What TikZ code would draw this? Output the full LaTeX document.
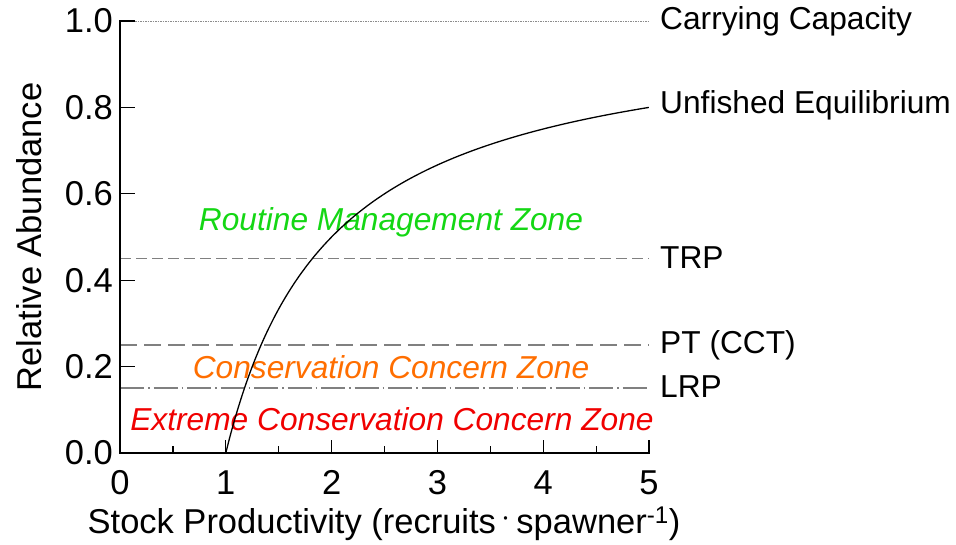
\documentclass[tikz,border=0pt]{standalone}
\usepackage{fontspec}
\setmainfont{Liberation Sans}
\begin{document}
\begin{tikzpicture}[x=1pt,y=-1pt,
  lbl/.style={font=\fontsize{31.7}{36}\selectfont, inner sep=0pt},
  ticklbl/.style={font=\fontsize{34.5}{38}\selectfont, inner sep=0pt},
  titlelbl/.style={font=\fontsize{34.5}{38}\selectfont, inner sep=0pt},
  refline/.style={draw=black!50, line width=1.5pt},
  zone/.style={font=\fontsize{31.7}{36}\selectfont\itshape, inner sep=0pt},
  axisline/.style={line width=1.5pt, line cap=rect},
  tickmark/.style={line width=1.2pt}]
\definecolor{zgreen}{RGB}{20,215,20}
\definecolor{zorange}{RGB}{255,110,0}
\definecolor{zred}{RGB}{240,0,0}
\useasboundingbox (0,0) rectangle (956,544);
% axes corner coordinates
\coordinate (O) at (120,453);
\coordinate (Ytop) at (120,21);
\coordinate (Xend) at (649,453);
% reference lines
\coordinate (cc0) at (120,21);   \coordinate (cc1) at (649,21);
\coordinate (trp0) at (120,258.6); \coordinate (trp1) at (649,258.6);
\coordinate (pt0) at (120,345); \coordinate (pt1) at (649,345);
\coordinate (lrp0) at (120,388.2); \coordinate (lrp1) at (649,388.2);
\draw[refline, draw=black!45, line width=0.9pt, dash pattern=on 1.5pt off 1pt] (cc0) -- (cc1);
\draw[refline, dash pattern=on 11pt off 5pt] (trp0) -- (trp1);
\draw[refline, dash pattern=on 17pt off 7pt] (pt0) -- (pt1);
\draw[refline, dash pattern=on 24pt off 4pt on 1.5pt off 4pt] (lrp0) -- (lrp1);
% zone labels
\node[zone, text=zgreen] (zr) at (391,222) {Routine Management Zone};
\node[zone, text=zorange] (zc) at (391,367) {Conservation Concern Zone};
\node[zone, text=zred] (ze) at (392,419) {Extreme Conservation Concern Zone};
% curve y = 1 - 1/x
\draw[line width=1.3pt, domain=1:5, samples=120, smooth]
  plot ({120+105.8*\x},{453-432*(1-1/\x)});
% axes
\draw[axisline] (Ytop) -- (O) -- (Xend);
% y ticks
\foreach \v/\t in {0/0.0,0.2/0.2,0.4/0.4,0.6/0.6,0.8/0.8,1/1.0} {
  \draw[tickmark] (120,{453-432*\v}) -- (135,{453-432*\v});
  \node[ticklbl, anchor=east] (yl\t) at (113,{453-432*\v}) {\t};
}
% x ticks
\foreach \d in {1,2,3,4,5} {
  \draw[tickmark] ({120+105.8*\d},453) -- ({120+105.8*\d},440);
}
\foreach \d in {0.5,1.5,2.5,3.5,4.5} {
  \draw[tickmark] ({120+105.8*\d},453) -- ({120+105.8*\d},446);
}
\foreach \d in {0,1,2,3,4,5} {
  \node[ticklbl, anchor=base] (xl\d) at ({120+105.8*\d},494) {\d};
}
% right labels
\node[lbl, anchor=west] (lcc) at (660,21) {Carrying Capacity};
\node[lbl, anchor=west] (lue) at (660,105) {Unfished Equilibrium};
\node[lbl, anchor=west] (ltrp) at (660,258) {TRP};
\node[lbl, anchor=west] (lpt) at (660,345) {PT (CCT)};
\node[lbl, anchor=west] (llrp) at (660,387) {LRP};
% axis titles
\node[titlelbl, rotate=90] (yt) at (29,237) {Relative Abundance};
\node[titlelbl, anchor=base] (xt) at (384,533) {Stock Productivity (recruits\,\raisebox{0.35ex}{\scalebox{1.3}{$\cdot$}}\,spawner\textsuperscript{-1})};
\end{tikzpicture}
\end{document}
